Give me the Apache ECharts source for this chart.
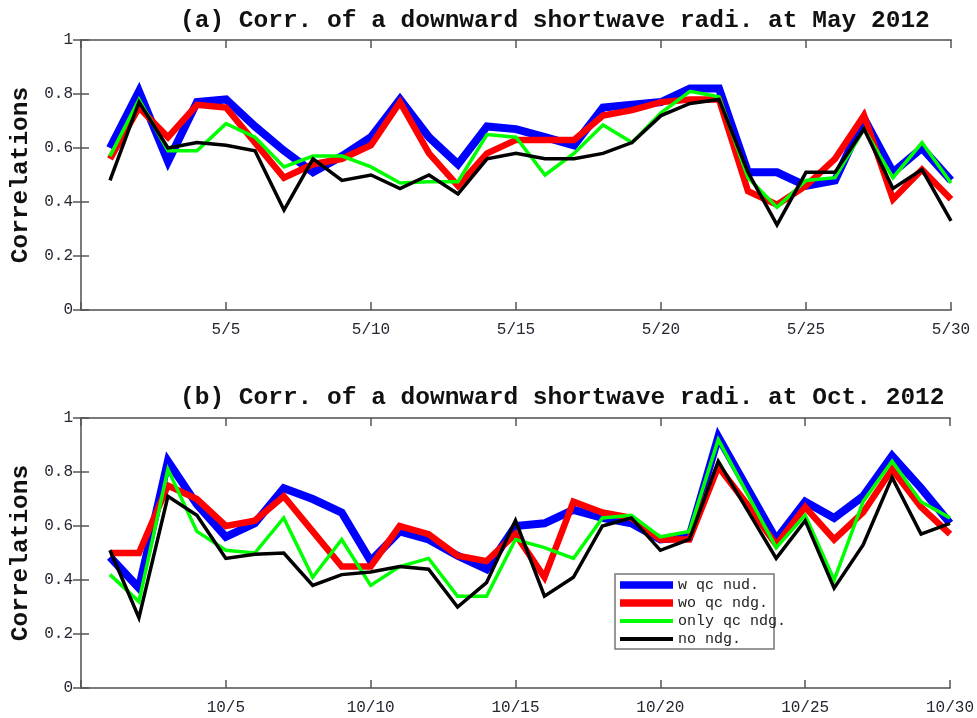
<!DOCTYPE html>
<html>
<head>
<meta charset="utf-8">
<script src="https://cdn.jsdelivr.net/npm/echarts@6/dist/echarts.min.js"></script>
<style>
html,body{margin:0;padding:0;background:#fff;}
#c{width:977px;height:718px;}
</style>
</head>
<body>
<div id="c"></div>
<script>
// Days of month (x positions)
var days = [1,2,3,4,5,6,7,8,9,10,11,12,13,14,15,16,17,18,19,20,21,22,23,24,25,26,27,28,29,30];
var xTicks = [5,10,15,20,25,30];

var seriesNames = ['w qc nud.', 'wo qc ndg.', 'only qc ndg.', 'no ndg.'];

// (a) May 2012
var mayWqc   = [0.60,0.81,0.55,0.77,0.78,0.68,0.59,0.51,0.57,0.64,0.78,0.64,0.54,0.68,0.67,0.64,0.61,0.75,0.76,0.77,0.82,0.82,0.51,0.51,0.46,0.48,0.71,0.51,0.60,0.48];
var mayWoqc  = [0.56,0.75,0.64,0.76,0.75,0.62,0.49,0.54,0.56,0.61,0.77,0.58,0.46,0.58,0.63,0.63,0.63,0.72,0.74,0.77,0.78,0.78,0.44,0.39,0.46,0.56,0.72,0.41,0.52,0.41];
var mayOnly  = [0.57,0.78,0.59,0.59,0.69,0.64,0.53,0.57,0.57,0.53,0.47,0.475,0.475,0.65,0.64,0.50,0.58,0.685,0.62,0.73,0.81,0.79,0.49,0.38,0.48,0.49,0.67,0.49,0.62,0.47];
var mayNo    = [0.48,0.77,0.60,0.62,0.61,0.59,0.37,0.56,0.48,0.50,0.45,0.50,0.43,0.56,0.58,0.56,0.56,0.58,0.62,0.72,0.765,0.78,0.51,0.315,0.51,0.51,0.67,0.45,0.52,0.33];

// (b) Oct. 2012
var octWqc   = [0.485,0.37,0.84,0.68,0.56,0.61,0.74,0.70,0.65,0.47,0.58,0.55,0.49,0.44,0.60,0.61,0.66,0.63,0.61,0.55,0.56,0.93,0.74,0.55,0.69,0.63,0.71,0.86,0.74,0.61];
var octWoqc  = [0.50,0.50,0.75,0.70,0.60,0.62,0.71,0.58,0.45,0.45,0.60,0.57,0.49,0.47,0.57,0.41,0.69,0.65,0.63,0.55,0.55,0.82,0.68,0.53,0.67,0.55,0.65,0.81,0.67,0.57];
var octOnly  = [0.42,0.32,0.81,0.58,0.51,0.50,0.63,0.41,0.55,0.38,0.45,0.48,0.34,0.34,0.55,0.52,0.48,0.63,0.64,0.56,0.58,0.92,0.72,0.52,0.64,0.40,0.69,0.84,0.69,0.63];
var octNo    = [0.51,0.26,0.71,0.64,0.48,0.495,0.50,0.38,0.42,0.43,0.45,0.44,0.30,0.39,0.62,0.34,0.41,0.60,0.63,0.51,0.55,0.84,0.66,0.48,0.62,0.37,0.53,0.78,0.57,0.61];

var titleA = '(a) Corr. of a downward shortwave radi. at May 2012';
var titleB = '(b) Corr. of a downward shortwave radi. at Oct. 2012';
var yName = 'Correlations';

var colors = ['#0000ff', '#ff0000', '#00ff00', '#000000'];
var widths = [8, 6.5, 3.5, 3.5];

var FONT = '"Liberation Mono", "DejaVu Sans Mono", monospace';
var AXC = '#7a7a7a';

function pairs(arr){ return days.map(function(d,i){ return [d, arr[i]]; }); }

function xAx(gi, month, pos){
  var isMain = pos === 'bottom';
  return {
    type:'value', gridIndex:gi, position:pos, min:0, max:30, interval:5,
    axisLine:{show:true, onZero:false, lineStyle:{color:AXC, width:2}},
    axisTick:{show:true, inside:true, length:8, lineStyle:{color:'#555', width:1.5}},
    axisLabel:{show:isMain, fontFamily:FONT, fontSize:16, color:'#262633', margin:12,
      formatter:function(v){ return xTicks.indexOf(v) >= 0 ? month + '/' + v : ''; }},
    splitLine:{show:false}
  };
}
function yAx(gi, pos){
  var isMain = pos === 'left';
  var o = {
    type:'value', gridIndex:gi, position:pos, min:0, max:1, interval:0.2,
    axisLine:{show:true, lineStyle:{color:AXC, width:2}},
    axisTick:{show:true, inside:true, length:8, lineStyle:{color:'#555', width:1.5}},
    axisLabel:{show:isMain, fontFamily:FONT, fontSize:16, color:'#262633', margin:8},
    splitLine:{show:false}
  };
  if (isMain) {
    o.name = yName; o.nameLocation = 'middle'; o.nameRotate = 90; o.nameGap = 48;
    o.nameTextStyle = {fontFamily:FONT, fontSize:24.5, fontWeight:'bold', color:'#111'};
  }
  return o;
}

var panels = [[mayWqc, mayWoqc, mayOnly, mayNo], [octWqc, octWoqc, octOnly, octNo]];
var series = [];
panels.forEach(function(p, gi){
  p.forEach(function(arr, si){
    series.push({
      type:'line', name:seriesNames[si], xAxisIndex:gi*2, yAxisIndex:gi*2,
      data:pairs(arr), symbol:'none', showSymbol:false, smooth:false, animation:false, z:2+si,
      lineStyle:{color:colors[si], width:widths[si], join:'miter'},
      itemStyle:{color:colors[si]}
    });
  });
});

function legendPart(names, top, thick){
  return {
    orient:'vertical', left:620, top:top, padding:0, itemGap:0, itemWidth:53, itemHeight:thick,
    icon:'rect', borderWidth:0, selectedMode:false, z:20,
    textStyle:{fontFamily:FONT, fontSize:15, color:'#222', lineHeight:18, height:18, verticalAlign:'middle'},
    data: names
  };
}

var option = {
  backgroundColor:'#fff',
  animation:false,
  title:[
    {text:titleA, left:180, top:8, padding:0, textStyle:{fontFamily:FONT, fontSize:24.5, fontWeight:'bold', color:'#111'}},
    {text:titleB, left:180, top:385, padding:0, textStyle:{fontFamily:FONT, fontSize:24.5, fontWeight:'bold', color:'#111'}}
  ],
  grid:[
    {left:72, right:26, top:40, height:270},
    {left:72, right:26, top:418, height:270}
  ],
  xAxis:[xAx(0,5,'bottom'), xAx(0,5,'top'), xAx(1,10,'bottom'), xAx(1,10,'top')],
  yAxis:[yAx(0,'left'), yAx(0,'right'), yAx(1,'left'), yAx(1,'right')],
  legend:[
    legendPart([seriesNames[0], seriesNames[1]], 576, 7.5),
    legendPart([seriesNames[2], seriesNames[3]], 612, 4)
  ],
  graphic:[
    {type:'rect', shape:{x:615, y:574, width:159, height:75}, z:10,
     style:{fill:'#fff', stroke:'#777', lineWidth:1.5}}
  ],
  series:series
};

var chart = echarts.init(document.getElementById('c'), null, {renderer:'canvas'});
chart.setOption(option);
</script>
</body>
</html>
